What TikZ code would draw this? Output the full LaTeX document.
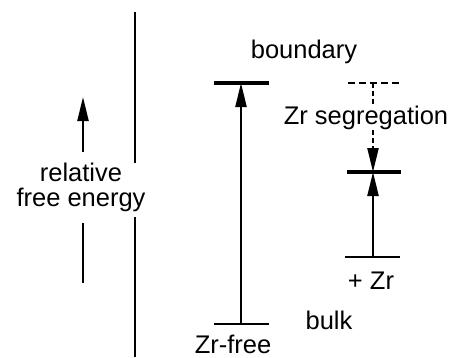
\documentclass[tikz,border=0pt]{standalone}
\usepackage{fontspec}
\setmainfont{Liberation Sans}
\usetikzlibrary{arrows.meta}
\begin{document}
\begin{tikzpicture}[x=1pt,y=-1pt,
  lbl/.style={font=\fontsize{25.5}{25}\selectfont, inner sep=0pt, align=center},
  level/.style={line width=3.3pt},
  axis/.style={line width=2.4pt},
  tip/.style={-{Triangle[length=24pt,width=11pt]}, line width=2.4pt},
  dsh/.style={dash pattern=on 5pt off 3pt}]
\useasboundingbox (0,0) rectangle (468,357);
% vertical separator
\coordinate (s1) at (135,12);
\coordinate (s2) at (135,163);
\coordinate (s3) at (135,217);
\coordinate (s4) at (135,357);
\draw[axis] (s1) -- (s2);
\draw[axis] (s3) -- (s4);
% relative free energy axis
\node[lbl] (rfe) at (81,187) {relative\\free energy};
\coordinate (a0) at (83,283);
\coordinate (a1) at (83,223);
\coordinate (a2) at (83,152);
\coordinate (a3) at (83,97);
\draw[axis] (a0) -- (a1);
\draw[tip] (a2) -- (a3);
% Zr-free levels
\coordinate (b1) at (214,83); \coordinate (b2) at (269,83);
\coordinate (c1) at (214,324); \coordinate (c2) at (269,324);
\coordinate (bm) at (241,83); \coordinate (cm) at (241,324);
\draw[level] (b1) -- (b2);
\draw[level, line width=2.8pt] (c1) -- (c2);
\draw[tip] (cm) -- (bm);
\node[lbl, anchor=base] (bnd) at (304,58) {boundary};
\node[lbl, anchor=base] (zrf) at (233,353) {Zr-free};
\node[lbl, anchor=base] (blk) at (329,329) {bulk};
% Zr levels
\coordinate (d1) at (348,83); \coordinate (d2) at (401,83);
\coordinate (e1) at (347,172); \coordinate (e2) at (401,172);
\coordinate (f1) at (345,257); \coordinate (f2) at (400,257);
\coordinate (dm) at (373,83); \coordinate (em) at (373,172); \coordinate (fm) at (373,257);
\draw[level, dash pattern=on 7pt off 4pt, line width=2.8pt] (d1) -- (d2);
\draw[level] (e1) -- (e2);
\draw[level, line width=2.8pt] (f1) -- (f2);
\node[lbl] (seg) at (366,118) {Zr segregation};
\draw[axis, dsh] (dm) -- (dm |- seg.north);
\draw[tip, dsh] (em |- seg.south) -- (em);
\draw[tip] (fm) -- (em);
\node[lbl, anchor=base] (pz) at (371,289) {+ Zr};
\end{tikzpicture}
\end{document}
